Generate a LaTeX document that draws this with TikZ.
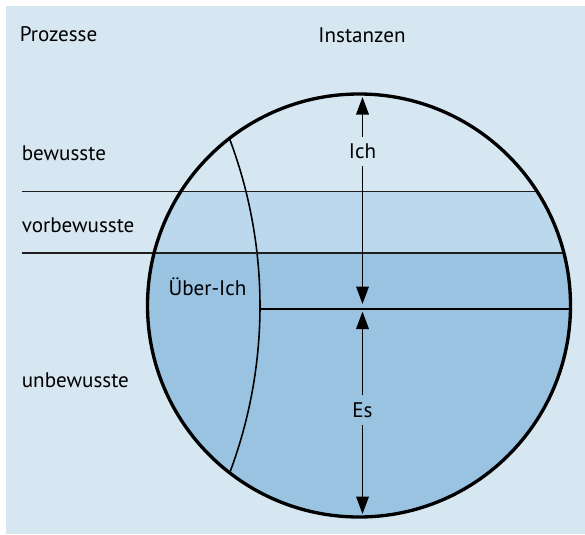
\documentclass[tikz,border=0pt]{standalone}
\usepackage{fontspec}
\setmainfont{PT Sans}
\usepackage{tikz}
\usetikzlibrary{arrows.meta}
\definecolor{panelbg}{HTML}{D7E7F2}
\definecolor{bandpre}{HTML}{BCD8EC}
\definecolor{bandunc}{HTML}{9AC2E1}
\definecolor{lineink}{HTML}{1E1E1E}

\begin{document}
\begin{tikzpicture}[
  font=\fontsize{12}{14}\selectfont,
  proc/.style={anchor=west, inner sep=0pt},
  inst/.style={inner sep=0pt, minimum height=0.58cm},
  rim/.style={draw=black, line width=1.9pt},
  sep/.style={draw=lineink, line width=1.1pt},
  dim/.style={draw=black, line width=1.1pt, -{Triangle[length=0.35cm,width=0.25cm]}},
]
\useasboundingbox (0,0) rectangle (11.70,-10.68);
\fill[white] (0,0) rectangle (11.70,-10.68);
\fill[panelbg] (0.12,-0.12) rectangle (11.70,-10.68);
\begin{scope}
\clip (7.18,-6.11) circle (4.23);
\fill[bandpre] (2.90,-3.83) rectangle (11.50,-5.06);
\fill[bandunc] (2.90,-5.06) rectangle (11.50,-10.40);
\draw[line width=0.9pt] (-4.29,-6.12) ++(22:9.49) arc (22:-22:9.49);
\end{scope}
\draw[sep] (0.43,-3.83) -- (10.74,-3.83);
\draw[sep] (0.43,-5.06) -- (11.28,-5.06);
\draw[line width=1.4pt] (5.20,-6.18) -- (11.41,-6.18);
\draw[rim] (7.18,-6.11) circle (4.23);
\node[proc] (prozesse) at (0.39,-0.69) {Prozesse};
\node (instanzen) at (7.24,-0.70) {Instanzen};
\node[proc] (bewusst) at (0.43,-3.07) {bewusste};
\node[proc] (vorbewusst) at (0.43,-4.50) {vorbewusste};
\node[proc] (unbewusst) at (0.43,-7.60) {unbewusste};
\node (ueberich) at (4.15,-5.74) {Über-Ich};
\node[inst] (ich) at (7.25,-3.03) {Ich};
\node[inst] (es) at (7.25,-8.20) {Es};
\coordinate (ichtop) at (7.25,-1.94);
\coordinate (ichbot) at (7.25,-6.08);
\coordinate (estop) at (7.25,-6.23);
\coordinate (esbot) at (7.25,-10.28);
\draw[dim] (ich) -- (ichtop);
\draw[dim] (ich) -- (ichbot);
\draw[dim] (es) -- (estop);
\draw[dim] (es) -- (esbot);
\end{tikzpicture}
\end{document}
